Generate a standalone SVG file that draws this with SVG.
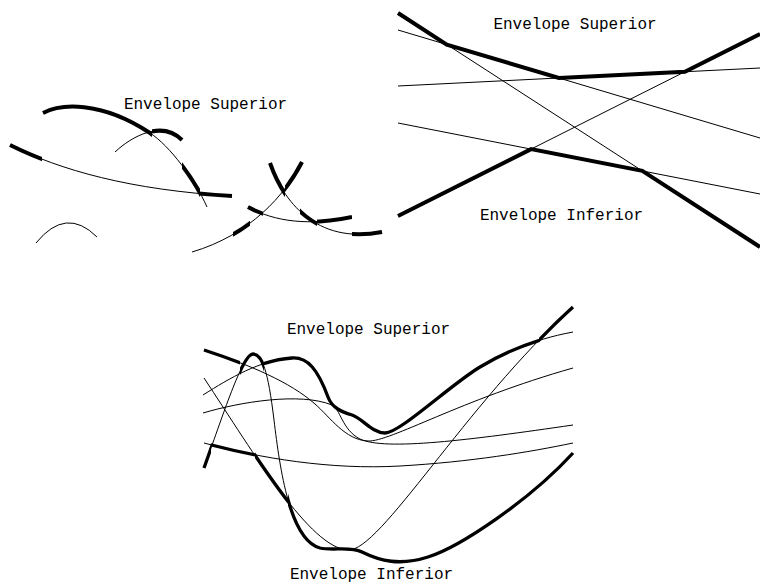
<svg xmlns="http://www.w3.org/2000/svg" width="760" height="583" viewBox="0 0 760 583">
<style>
.thin{fill:none;stroke:#000;stroke-width:1}
.thick{fill:none;stroke:#000;stroke-width:4}
.thickb{fill:none;stroke:#000;stroke-width:3.3}
text{font-family:"Liberation Mono","Courier New",monospace;font-size:16px;fill:#000;text-anchor:middle}
</style>
<defs>
<path id="P1" d="M43,113 C60,104 100,100 150,133 C170,146 195,180 207,207"/>
<path id="P2" d="M115,152 C132,136 162,120 182,140"/>
<path id="P3" d="M10,145 C60,170 130,190 232,196"/>
<path id="Q1" d="M270,163 C283,200 315,245 382,232"/>
<path id="Q2" d="M302,162 C285,195 250,235 192,252"/>
<path id="Q3" d="M248,207 C275,222 310,226 352,217"/>
<path id="bA" d="M204,378 C255,455 310,548 348,550 C380,552 465,405 573,307"/>
<path id="bB" d="M204,468 C226,406 243,354 253,354 C262,354 268,370 274,420 C280,470 290,540 320,548 C333,551 350,546 362,552 C380,561 400,566 428,557 C460,547 530,500 573,453"/>
<path id="bC" d="M204,443 C260,458 330,470 400,466 C470,462 530,452 573,443"/>
<path id="bE" d="M203,395 C230,378 260,360 292,358 C308,357 318,370 328,397 C332,408 342,412 352,415 C362,418 372,433 385,433 C400,433 450,385 480,367 C500,355 530,340 573,332"/>
<path id="bG" d="M204,350 C250,365 290,382 315,404 C330,417 345,440 368,441 C390,442 460,400 573,368"/>
<path id="bI" d="M203,413 C240,402 300,392 332,405 C340,408 342,430 360,439 C385,451 470,440 573,425"/>
<clipPath id="cP1"><rect x="0" y="0" width="152" height="300"/><rect x="182" y="0" width="18" height="300"/></clipPath>
<clipPath id="cP2"><rect x="152" y="0" width="50" height="300"/></clipPath>
<clipPath id="cP3"><rect x="0" y="0" width="42" height="300"/><rect x="200" y="0" width="40" height="300"/></clipPath>
<clipPath id="cQ1"><rect x="260" y="0" width="25" height="300"/><rect x="300" y="0" width="17" height="300"/><rect x="352" y="0" width="50" height="300"/></clipPath>
<clipPath id="cQ2"><rect x="285" y="0" width="25" height="300"/><rect x="233" y="0" width="17" height="300"/></clipPath>
<clipPath id="cQ3"><rect x="240" y="0" width="23" height="300"/><rect x="317" y="0" width="35" height="300"/></clipPath>
<clipPath id="cA"><rect x="255" y="290" width="33" height="293"/><rect x="539" y="290" width="40" height="293"/></clipPath>
<clipPath id="cB"><rect x="198" y="290" width="13" height="293"/><rect x="240" y="290" width="24" height="293"/><rect x="288" y="290" width="291" height="293"/></clipPath>
<clipPath id="cC"><rect x="211" y="290" width="44" height="293"/></clipPath>
<clipPath id="cE"><rect x="264" y="290" width="275" height="293"/></clipPath>
<clipPath id="cG"><rect x="198" y="290" width="42" height="293"/></clipPath>
</defs>

<g id="panel-top-left">
<use href="#P1" class="thin"/><use href="#P1" class="thick" clip-path="url(#cP1)"/>
<use href="#P2" class="thin"/><use href="#P2" class="thick" clip-path="url(#cP2)"/>
<use href="#P3" class="thin"/><use href="#P3" class="thick" clip-path="url(#cP3)"/>
<path class="thin" d="M36,243 Q66,206 97,237"/>
<use href="#Q1" class="thin"/><use href="#Q1" class="thick" clip-path="url(#cQ1)"/>
<use href="#Q2" class="thin"/><use href="#Q2" class="thick" clip-path="url(#cQ2)"/>
<use href="#Q3" class="thin"/><use href="#Q3" class="thick" clip-path="url(#cQ3)"/>
<text x="205.5" y="109">Envelope Superior</text>
</g>

<g id="panel-top-right">
<line class="thin" x1="398" y1="13" x2="760" y2="247"/>
<line class="thin" x1="398" y1="30" x2="760" y2="138"/>
<line class="thin" x1="398" y1="86" x2="760" y2="68"/>
<line class="thin" x1="398" y1="216" x2="760" y2="34"/>
<line class="thin" x1="398" y1="123" x2="760" y2="194"/>
<polyline class="thick" points="398,13 446.8,44.6 558.9,78 684.9,71.7 760,34"/>
<polyline class="thick" points="398,216 531.1,149.1 642.3,170.9 760,247"/>
<text x="575" y="29">Envelope Superior</text>
<text x="561.5" y="220">Envelope Inferior</text>
</g>

<g id="panel-bottom">
<use href="#bA" class="thin"/><use href="#bA" class="thickb" clip-path="url(#cA)"/>
<use href="#bB" class="thin"/><use href="#bB" class="thickb" clip-path="url(#cB)"/>
<use href="#bC" class="thin"/><use href="#bC" class="thickb" clip-path="url(#cC)"/>
<use href="#bE" class="thin"/><use href="#bE" class="thickb" clip-path="url(#cE)"/>
<use href="#bG" class="thin"/><use href="#bG" class="thickb" clip-path="url(#cG)"/>
<use href="#bI" class="thin"/>
<text x="368.5" y="334">Envelope Superior</text>
<text x="371.5" y="578.5">Envelope Inferior</text>
</g>
</svg>
